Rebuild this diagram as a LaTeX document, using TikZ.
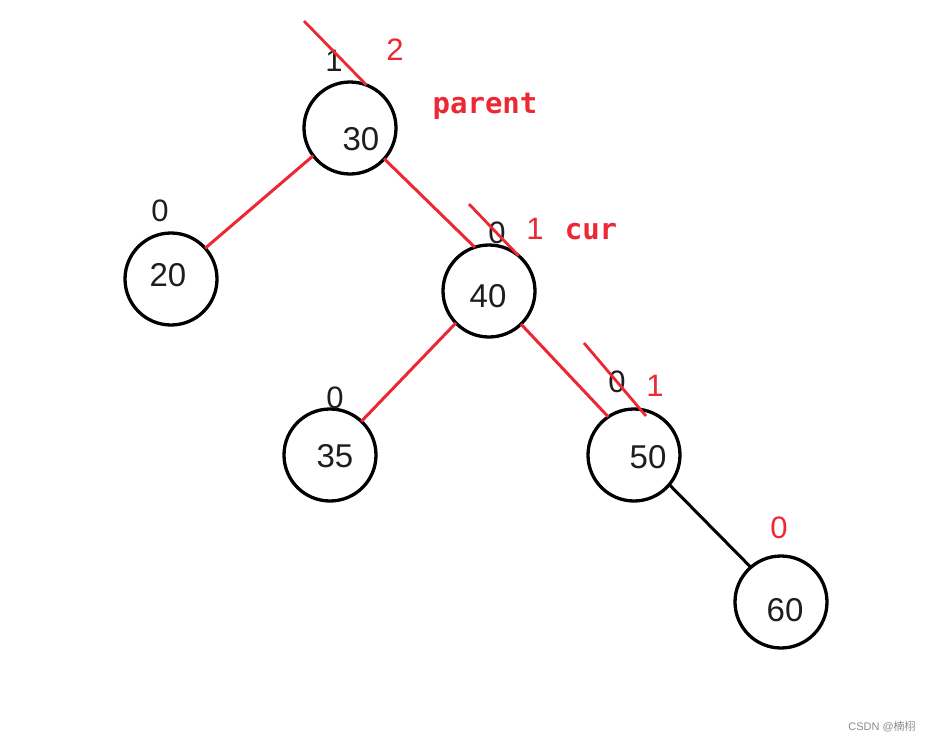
\documentclass[tikz,border=0pt]{standalone}
\usepackage{fontspec}
\setmainfont{Liberation Sans}
\newfontfamily\codefont{DejaVu Sans Mono}
\newfontfamily\cjkfont{Noto Sans CJK SC}
\usepackage{tikz}
\usetikzlibrary{positioning}
\definecolor{mark}{RGB}{236,40,52}
\definecolor{ink}{RGB}{30,30,30}

\begin{document}
\begin{tikzpicture}[x=1pt, y=-1pt,
  every node/.style={inner sep=0pt, outer sep=0pt},
  vtx/.style={circle, draw=black, line width=3.3pt, minimum size=92pt},
  num/.style={text=ink, font=\fontsize{33}{36}\selectfont},
  bf/.style={text=ink, font=\fontsize{31}{34}\selectfont},
  redbf/.style={text=mark, font=\fontsize{31}{34}\selectfont},
  tag/.style={text=mark, font=\codefont\bfseries\fontsize{29}{32}\selectfont},
  edge/.style={line width=3pt, draw=mark},
  blk/.style={line width=3pt, draw=black},
  strike/.style={line width=2.8pt, draw=mark}
]
  \useasboundingbox (0,0) rectangle (934,742);
  % tree nodes
  \node[vtx] (n30) at (350,128) {};
  \node[vtx] (n20) at (171,279) {};
  \node[vtx] (n40) at (489,291) {};
  \node[vtx] (n35) at (330,455) {};
  \node[vtx] (n50) at (634,455) {};
  \node[vtx] (n60) at (781,602) {};
  \node[num] (v30) at (361,139) {30};
  \node[num] (v20) at (168,275) {20};
  \node[num] (v40) at (488,296) {40};
  \node[num] (v35) at (335,456) {35};
  \node[num] (v50) at (648,457) {50};
  \node[num] (v60) at (785,610) {60};
  % edges
  \draw[edge] (n30.217) -- (n20.42);
  \draw[edge] (n30.-42) -- (n40.108);
  \draw[edge] (n40.224) -- (n35.47);
  \draw[edge] (n40.-46) -- (n50.124);
  \draw[blk] (n50.-40) -- (n60.131);
  % balance factors
  \node[bf] (b30) at (334,61) {1};
  \node[redbf] (r30) at (395,50) {2};
  \node[tag] (par) at (485,106) {parent};
  \node[bf] (b20) at (160,211) {0};
  \node[bf] (b40) at (497,233) {0};
  \node[redbf] (r40) at (535,229) {1};
  \node[tag] (cur) at (591,232) {cur};
  \node[bf] (b35) at (335,398) {0};
  \node[bf] (b50) at (617,382) {0};
  \node[redbf] (r50) at (655,386) {1};
  \node[redbf] (r60) at (779,528) {0};
  % crossed out
  \coordinate (s30) at (304,21);
  \coordinate (s40) at (469,204);
  \coordinate (s50) at (584,343);
  \coordinate (e50) at (646,416);
  \draw[strike] (s30) -- (n30.69);
  \draw[strike] (s40) -- (n40.50);
  \draw[strike] (s50) -- (e50);
  \node[text=black!45, font=\fontsize{11}{12}\selectfont] (wm) at (882,727) {CSDN @{\cjkfont 楠栩}};
\end{tikzpicture}
\end{document}
